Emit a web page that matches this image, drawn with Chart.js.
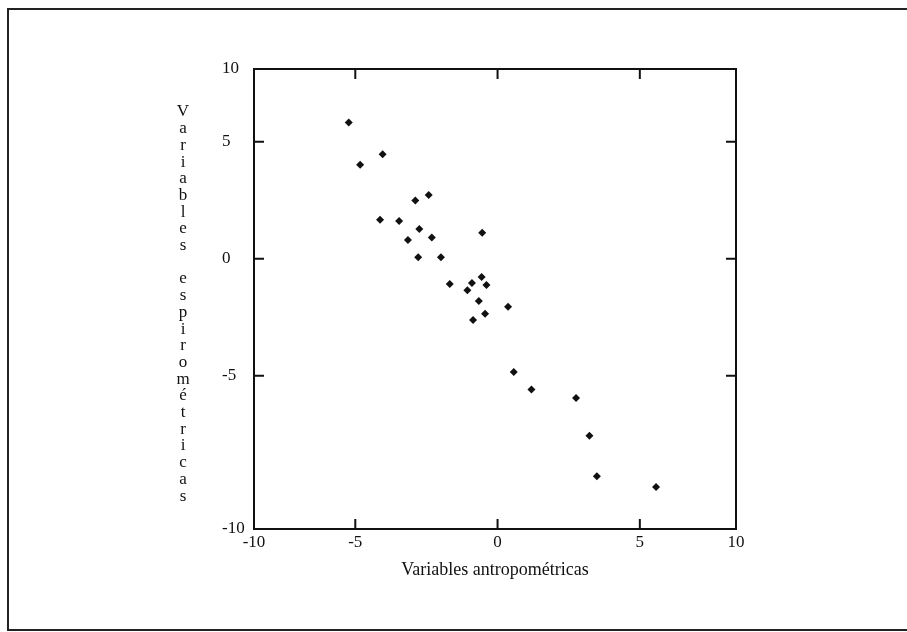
<!DOCTYPE html>
<html>
<head>
<meta charset="utf-8">
<script src="https://cdn.jsdelivr.net/npm/chart.js@4.4.1/dist/chart.umd.min.js"></script>
<style>
  html, body { margin: 0; padding: 0; background: #fff; }
  #wrap { position: relative; width: 907px; height: 632px; }
</style>
</head>
<body>
<div id="wrap"><canvas id="chart"></canvas></div>
<script>
/* Scatter: variables antropométricas vs espirométricas (scanned figure). */
(function () {
  // frame limits of the figure; inner ticks sit at -5, 0, 5, end labels read ±10
  const X_MIN = -8.56, X_MAX = 8.38;
  const Y_MIN = -11.55, Y_MAX = 8.11;
  const xTickValues = [X_MIN, -5, 0, 5, X_MAX];
  const xTickLabels = ["-10", "-5", "0", "5", "10"];
  const yTickValues = [Y_MIN, -5, 0, 5, Y_MAX];
  const yTickLabels = ["-10", "-5", "0", "5", "10"];

  const xValues = [-5.23, -4.83, -4.04, -2.89, -2.42, -4.13, -3.46, -2.75, -3.15, -2.31,
    -2.79, -1.99, -0.54, -1.68, -0.90, -1.06, -0.56, -0.39, -0.66, -0.44,
    -0.86, 0.37, 0.57, 1.19, 2.76, 3.23, 3.49, 5.57];
  const yValues = [5.82, 4.02, 4.47, 2.49, 2.72, 1.67, 1.61, 1.27, 0.80, 0.91,
    0.06, 0.06, 1.11, -1.08, -1.04, -1.35, -0.78, -1.12, -1.81, -2.35,
    -2.62, -2.05, -4.84, -5.59, -5.95, -7.56, -9.30, -9.76];

  const X_TITLE = "Variables antropométricas";
  const Y_TITLE = "Variables espirométricas";

  const INK = "#111";
  const FONT = "'Liberation Serif', 'Times New Roman', serif";

  const frame = {
    id: "frame",
    beforeDraw(chart) {
      const ctx = chart.ctx;
      ctx.save();
      // outer border of the scanned page
      ctx.strokeStyle = "#222";
      ctx.lineWidth = 2;
      ctx.beginPath();
      ctx.moveTo(907, 9);
      ctx.lineTo(8, 9);
      ctx.lineTo(8, 630);
      ctx.lineTo(907, 630);
      ctx.stroke();
      ctx.restore();
    },
    beforeDatasetsDraw(chart) {
      const { ctx, chartArea: a, scales } = chart;
      const TL = 10;
      ctx.save();
      ctx.strokeStyle = INK;
      ctx.lineWidth = 2;
      ctx.strokeRect(a.left, a.top, a.right - a.left, a.bottom - a.top);
      ctx.beginPath();
      xTickValues.slice(1, -1).forEach((v) => {
        const px = scales.x.getPixelForValue(v);
        ctx.moveTo(px, a.bottom); ctx.lineTo(px, a.bottom - TL);
        ctx.moveTo(px, a.top); ctx.lineTo(px, a.top + TL);
      });
      yTickValues.slice(1, -1).forEach((v) => {
        const py = scales.y.getPixelForValue(v);
        ctx.moveTo(a.left, py); ctx.lineTo(a.left + TL, py);
        ctx.moveTo(a.right, py); ctx.lineTo(a.right - TL, py);
      });
      ctx.stroke();

      // stacked vertical y title, one letter per line
      ctx.fillStyle = INK;
      ctx.font = "17px " + FONT;
      ctx.textAlign = "center";
      ctx.textBaseline = "middle";
      Array.from(Y_TITLE).forEach((ch, i) => {
        ctx.fillText(ch, a.left - 71, a.top + 43 + i * 16.7);
      });
      ctx.restore();
    },
  };

  new Chart(document.getElementById("chart"), {
    type: "scatter",
    data: {
      datasets: [{
        data: xValues.map((x, i) => ({ x, y: yValues[i] })),
        pointStyle: "rectRot",
        radius: 4,
        backgroundColor: INK,
        borderWidth: 0,
      }],
    },
    options: {
      responsive: true,
      maintainAspectRatio: false,
      animation: false,
      layout: { padding: { left: 222, right: 171, top: 69, bottom: 0 } },
      plugins: { legend: { display: false }, tooltip: { enabled: false } },
      scales: {
        x: {
          type: "linear",
          min: X_MIN,
          max: X_MAX,
          afterBuildTicks: (s) => { s.ticks = xTickValues.map((v) => ({ value: v })); },
          afterFit: (s) => { s.height = 103; },
          grid: { display: false, drawTicks: false },
          border: { display: false },
          ticks: {
            color: INK,
            font: { family: FONT, size: 17 },
            padding: 3,
            maxRotation: 0,
            callback: (v, i) => xTickLabels[i],
          },
          title: {
            display: true,
            text: X_TITLE,
            color: INK,
            font: { family: FONT, size: 18 },
            padding: { top: 4, bottom: 51 },
          },
        },
        y: {
          type: "linear",
          min: Y_MIN,
          max: Y_MAX,
          afterBuildTicks: (s) => { s.ticks = yTickValues.map((v) => ({ value: v })); },
          afterFit: (s) => { s.width = 32; },
          grid: { display: false, drawTicks: false },
          border: { display: false },
          ticks: {
            color: INK,
            font: { family: FONT, size: 17 },
            crossAlign: "far",
            callback: (v, i) => yTickLabels[i],
          },
        },
      },
    },
    plugins: [frame],
  });
})();
</script>
</body>
</html>
